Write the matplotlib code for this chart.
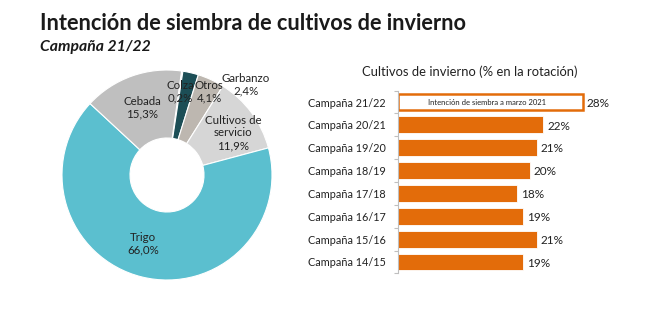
import matplotlib
matplotlib.use("Agg")
import matplotlib.pyplot as plt
import numpy as np

plt.rcParams['font.family'] = ['Lato', 'DejaVu Sans']

# Donut data
pie_labels = ["Colza", "Garbanzo", "Otros", "Cultivos de\nservicio", "Trigo", "Cebada"]
pie_values = [0.2, 2.4, 4.1, 11.9, 66.0, 15.3]
pie_colors = ["#A8D3DB", "#1C4E56", "#BDB7B0", "#D6D6D6", "#5BBFCF", "#BFBFBF"]

# Bar data
campaigns = ["Campaña 21/22", "Campaña 20/21", "Campaña 19/20", "Campaña 18/19",
             "Campaña 17/18", "Campaña 16/17", "Campaña 15/16", "Campaña 14/15"]
shares = [28, 22, 21, 20, 18, 19, 21, 19]

W, H = 650, 322
fig = plt.figure(figsize=(W / 100, H / 100), dpi=100)

def fx(px):
    return px / W

def fy(py):
    return 1 - py / H

fig.text(fx(40), fy(23), "Intención de siembra de cultivos de invierno",
         fontsize=15.7, fontweight='bold', color='#1a1a1a', va='center', ha='left')
fig.text(fx(40), fy(47), "Campaña 21/22", fontsize=11.3, fontweight='bold',
         style='italic', color='#1a1a1a', va='center', ha='left')

# Donut
cx, cy, R, r_in = 167, 175, 105, 37
axp = fig.add_axes([fx(cx - R), fy(cy + R), (2 * R) / W, (2 * R) / H])
wedges, _ = axp.pie(pie_values, colors=pie_colors, startangle=82, counterclock=False,
                    radius=1, wedgeprops=dict(width=1 - r_in / R, edgecolor='white', linewidth=0.8))
axp.set_xlim(-1, 1)
axp.set_ylim(-1, 1)
axp.set_aspect('auto')
axp.axis('off')

def ptxt(px, py, s):
    axp.text((px - cx) / R, (cy - py) / R, s, ha='center', va='center',
             fontsize=8.3, color='#222222', linespacing=1.2)

ptxt(180, 92, "Colza\n0,2%")
ptxt(209, 92, "Otros\n4,1%")
ptxt(246, 85, "Garbanzo\n2,4%")
ptxt(233, 133, "Cultivos de\nservicio\n11,9%")
ptxt(142, 108, "Cebada\n15,3%")
ptxt(143, 244, "Trigo\n66,0%")

# Bars
left_px, right_px = 398, 398 + 6.6 * 30
top_px, bot_px = 90.6, 273.4
axb = fig.add_axes([fx(left_px), fy(bot_px), (right_px - left_px) / W, (bot_px - top_px) / H])
n = len(campaigns)
ypos = np.arange(n)[::-1]
orange = "#E36C0A"
for i, (lab, v) in enumerate(zip(campaigns, shares)):
    if i == 0:
        axb.barh(ypos[i], v, height=0.74, color='white', edgecolor=orange, linewidth=1.8)
        axb.text(v / 2 - 0.5, ypos[i], "Intención de siembra a marzo 2021", ha='center',
                 va='center', fontsize=5.5, color='#222222')
    else:
        axb.barh(ypos[i], v, height=0.74, color=orange, edgecolor='white', linewidth=0.6)
    axb.text(v + 0.6, ypos[i] - 0.05, f"{v}%", ha='left', va='center', fontsize=8.5, color='#222222')

axb.set_xlim(0, 30)
axb.set_ylim(-0.5, n - 0.5)
axb.set_yticks(ypos)
axb.set_yticklabels(campaigns, fontsize=7.8, color='#222222')
axb.tick_params(axis='y', which='major', length=0, pad=9)
axb.set_yticks(np.arange(-0.5, n, 1.0), minor=True)
axb.tick_params(axis='y', which='minor', length=3, color='#BFBFBF', width=0.8)
axb.set_xticks([])
for s in ['top', 'right', 'bottom']:
    axb.spines[s].set_visible(False)
axb.spines['left'].set_color('#BFBFBF')
axb.spines['left'].set_linewidth(0.8)
axb.patch.set_alpha(0)

fig.text(fx(470), fy(72), "Cultivos de invierno (% en la rotación)", ha='center', va='center',
         fontsize=9.4, color='#222222')

fig.savefig("out.png", dpi=100, facecolor='white')
